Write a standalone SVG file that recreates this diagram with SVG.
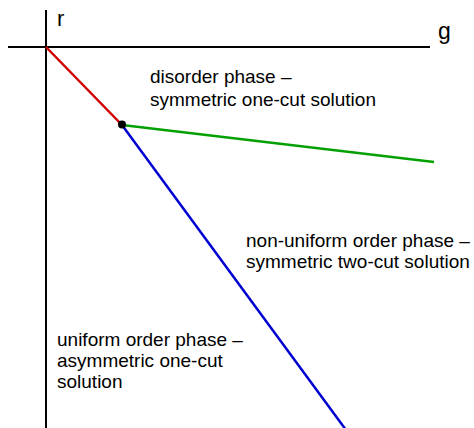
<svg xmlns="http://www.w3.org/2000/svg" width="474" height="428" viewBox="0 0 474 428">
<style>
text{font-family:"Liberation Sans",Arial,sans-serif;font-size:19px;fill:#000}
.ax{stroke:#000;stroke-width:2;fill:none}
.ln{stroke-width:2.5;fill:none}
</style>
<rect width="474" height="428" fill="#fff"/>
<g id="axes">
<line class="ax" x1="46" y1="10" x2="46" y2="428"/>
<line class="ax" x1="8" y1="47" x2="430" y2="47"/>
<text x="57" y="26" style="font-size:22px">r</text>
<text x="438" y="39" style="font-size:23px">g</text>
</g>
<g id="connectors">
<line class="ln" x1="46" y1="47" x2="122" y2="125" stroke="#d00000"/>
<line class="ln" x1="122" y1="125" x2="434" y2="162" stroke="#00a000"/>
<line class="ln" x1="122" y1="125" x2="346" y2="430" stroke="#0000d0"/>
</g>
<g id="triple-point"><circle cx="122" cy="124.5" r="4" fill="#000"/></g>
<g id="disorder">
<text x="150" y="83">disorder phase –</text>
<text x="150" y="106">symmetric one-cut solution</text>
</g>
<g id="nonuniform">
<text x="246" y="247">non-uniform order phase –</text>
<text x="246" y="268">symmetric two-cut solution</text>
</g>
<g id="uniform">
<text x="57" y="346">uniform order phase –</text>
<text x="57" y="367">asymmetric one-cut</text>
<text x="57" y="388">solution</text>
</g>
</svg>
